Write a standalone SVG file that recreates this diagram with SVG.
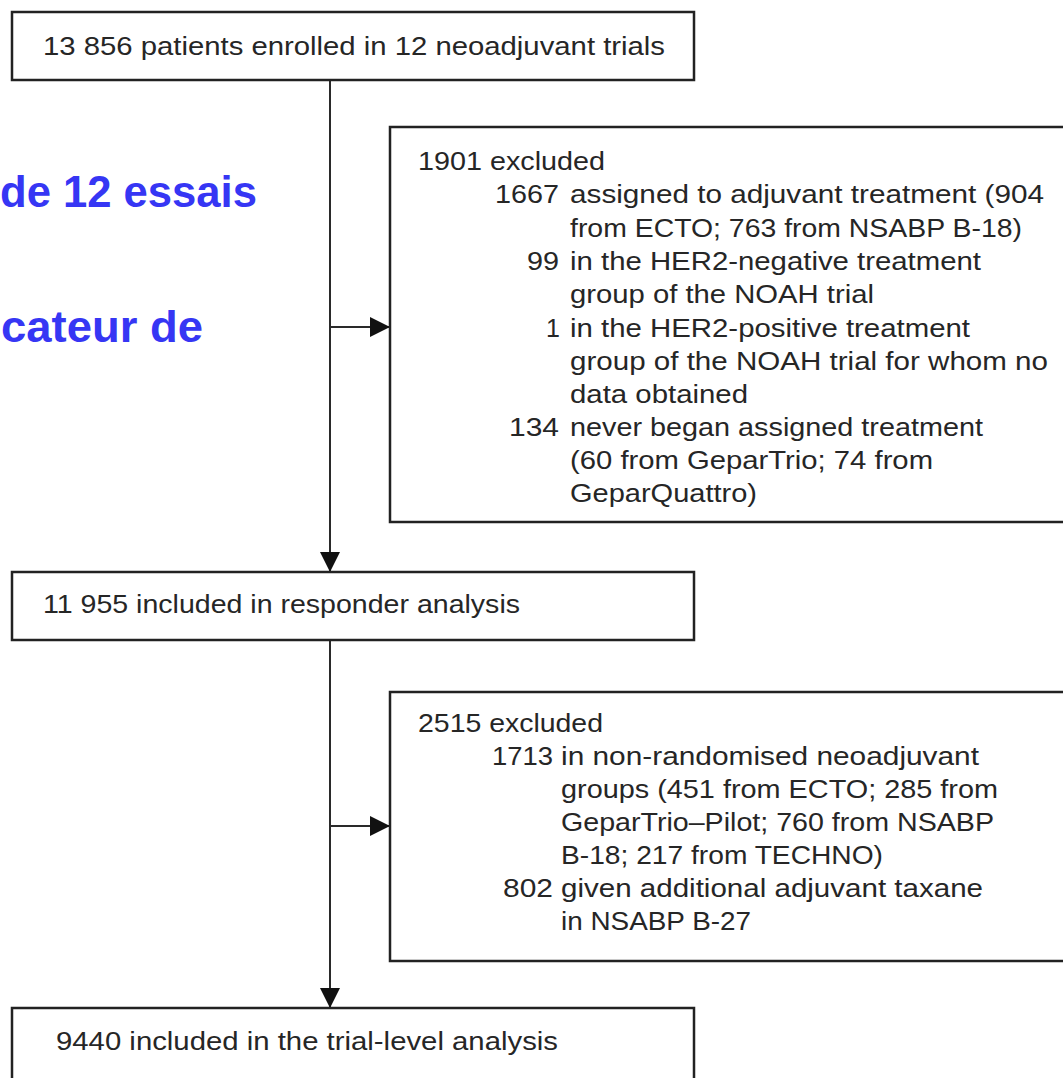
<svg xmlns="http://www.w3.org/2000/svg" width="1063" height="1078" viewBox="0 0 1063 1078">
  <style>
    .box { fill: #ffffff; stroke: #222222; stroke-width: 2.5; }
    .t { font-family: "Liberation Sans", Arial, sans-serif; font-size: 25px; fill: #262626; }
    .n { text-anchor: end; }
    .blue { font-family: "Liberation Sans", Arial, sans-serif; font-size: 44px; font-weight: bold; fill: #3636F4; }
    .conn { stroke: #2a2a2a; stroke-width: 2; fill: none; }
  </style>
  <defs>
    <marker id="arrow" viewBox="0 0 20 20" refX="20" refY="10" markerWidth="20" markerHeight="20" markerUnits="userSpaceOnUse" orient="auto">
      <path d="M0,0 L20,10 L0,20 Z" fill="#111111"/>
    </marker>
  </defs>
  <rect width="1063" height="1078" fill="#ffffff"/>

  <g id="background-text">
    <text class="blue" x="0" y="207" textLength="257" lengthAdjust="spacingAndGlyphs">de 12 essais</text>
    <text class="blue" x="1" y="342" textLength="202" lengthAdjust="spacingAndGlyphs">cateur de</text>
  </g>

  <g id="connectors">
    <line class="conn" x1="330" y1="80" x2="330" y2="572" marker-end="url(#arrow)"/>
    <line class="conn" x1="330" y1="327" x2="390" y2="327" marker-end="url(#arrow)"/>
    <line class="conn" x1="330" y1="640" x2="330" y2="1008" marker-end="url(#arrow)"/>
    <line class="conn" x1="330" y1="826" x2="390" y2="826" marker-end="url(#arrow)"/>
  </g>

  <g id="enrolled">
    <rect class="box" x="12" y="12" width="682" height="68"/>
    <text class="t" x="43" y="55" textLength="622" lengthAdjust="spacingAndGlyphs">13 856 patients enrolled in 12 neoadjuvant trials</text>
  </g>

  <g id="excluded-1901">
    <rect class="box" x="390" y="127" width="700" height="395"/>
    <text class="t" x="418" y="170" textLength="187" lengthAdjust="spacingAndGlyphs">1901 excluded</text>
    <text class="t" x="495" y="203" textLength="64" lengthAdjust="spacingAndGlyphs">1667</text>
    <text class="t" x="570" y="203" textLength="474" lengthAdjust="spacingAndGlyphs">assigned to adjuvant treatment (904</text>
    <text class="t" x="570" y="237" textLength="452" lengthAdjust="spacingAndGlyphs">from ECTO; 763 from NSABP B-18)</text>
    <text class="t" x="527" y="270" textLength="32" lengthAdjust="spacingAndGlyphs">99</text>
    <text class="t" x="570" y="270" textLength="411" lengthAdjust="spacingAndGlyphs">in the HER2-negative treatment</text>
    <text class="t" x="570" y="303" textLength="304" lengthAdjust="spacingAndGlyphs">group of the NOAH trial</text>
    <text class="t" x="546" y="337">1</text>
    <text class="t" x="570" y="337" textLength="400" lengthAdjust="spacingAndGlyphs">in the HER2-positive treatment</text>
    <text class="t" x="570" y="370" textLength="478" lengthAdjust="spacingAndGlyphs">group of the NOAH trial for whom no</text>
    <text class="t" x="570" y="403" textLength="178" lengthAdjust="spacingAndGlyphs">data obtained</text>
    <text class="t" x="509" y="436" textLength="50" lengthAdjust="spacingAndGlyphs">134</text>
    <text class="t" x="570" y="436" textLength="413" lengthAdjust="spacingAndGlyphs">never began assigned treatment</text>
    <text class="t" x="570" y="469" textLength="363" lengthAdjust="spacingAndGlyphs">(60 from GeparTrio; 74 from</text>
    <text class="t" x="570" y="502" textLength="187" lengthAdjust="spacingAndGlyphs">GeparQuattro)</text>
  </g>

  <g id="responder">
    <rect class="box" x="12" y="572" width="682" height="68"/>
    <text class="t" x="43" y="613" textLength="477" lengthAdjust="spacingAndGlyphs">11 955 included in responder analysis</text>
  </g>

  <g id="excluded-2515">
    <rect class="box" x="390" y="692" width="700" height="269"/>
    <text class="t" x="418" y="732" textLength="185" lengthAdjust="spacingAndGlyphs">2515 excluded</text>
    <text class="t" x="492" y="765" textLength="61" lengthAdjust="spacingAndGlyphs">1713</text>
    <text class="t" x="561" y="765" textLength="418" lengthAdjust="spacingAndGlyphs">in non-randomised neoadjuvant</text>
    <text class="t" x="561" y="798" textLength="437" lengthAdjust="spacingAndGlyphs">groups (451 from ECTO; 285 from</text>
    <text class="t" x="561" y="831" textLength="433" lengthAdjust="spacingAndGlyphs">GeparTrio–Pilot; 760 from NSABP</text>
    <text class="t" x="561" y="864" textLength="322" lengthAdjust="spacingAndGlyphs">B-18; 217 from TECHNO)</text>
    <text class="t" x="503" y="897" textLength="50" lengthAdjust="spacingAndGlyphs">802</text>
    <text class="t" x="561" y="897" textLength="422" lengthAdjust="spacingAndGlyphs">given additional adjuvant taxane</text>
    <text class="t" x="561" y="930" textLength="190" lengthAdjust="spacingAndGlyphs">in NSABP B-27</text>
  </g>

  <g id="trial-level">
    <rect class="box" x="12" y="1008" width="682" height="80"/>
    <text class="t" x="56" y="1050" textLength="502" lengthAdjust="spacingAndGlyphs">9440 included in the trial-level analysis</text>
  </g>
</svg>
